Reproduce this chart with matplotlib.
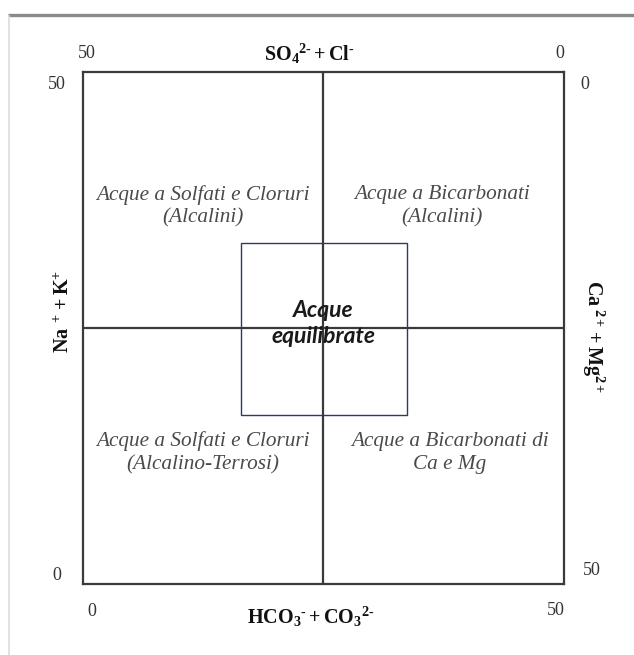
import matplotlib
matplotlib.use("Agg")
import matplotlib.pyplot as plt
from matplotlib.patches import Rectangle

plt.rcParams['mathtext.fontset'] = 'custom'
plt.rcParams['mathtext.rm'] = 'Liberation Serif'
plt.rcParams['mathtext.bf'] = 'Liberation Serif:bold'
plt.rcParams['mathtext.it'] = 'Liberation Serif:italic'

# ---- data ----
axis_min, axis_max = 0, 50
mid = 25
bottom_tick_labels = ["0", "50"]       # HCO3 + CO3, left -> right
top_tick_labels = ["50", "0"]          # SO4 + Cl, left -> right
left_tick_labels = ["0", "50"]         # Na + K, bottom -> top
right_tick_labels = ["50", "0"]        # Ca + Mg, bottom -> top
eq_box = [16.4, 33.7, 16.5, 33.3]      # x0, x1, y0, y1 of "Acque equilibrate"
quadrant_labels = ["Acque a Solfati e Cloruri\n(Alcalini)",
                   "Acque a Bicarbonati\n(Alcalini)",
                   "Acque a Solfati e Cloruri\n(Alcalino-Terrosi)",
                   "Acque a Bicarbonati di\nCa e Mg"]
quadrant_x = [12.5, 37.3, 12.5, 38.1]
quadrant_y = [36.9, 36.9, 12.8, 12.8]
center_label = "Acque\nequilibrate"

W, H = 634, 655
fig = plt.figure(figsize=(W / 100, H / 100), dpi=100)

# decoration frame of the screenshot
deco = fig.add_axes([0, 0, 1, 1])
deco.set_xlim(0, W)
deco.set_ylim(H, 0)
deco.axis('off')
deco.plot([8, W], [14.5, 14.5], color='#8a8a8a', lw=2.4, solid_capstyle='butt')
deco.plot([8.5, 8.5], [16, H], color='#dcdcdc', lw=1.2)

left, right, top, bottom = 83, 564, 72, 584
ax = fig.add_axes([left / W, (H - bottom) / H, (right - left) / W, (bottom - top) / H])
ax.set_xlim(axis_min, axis_max)
ax.set_ylim(axis_min, axis_max)
ax.set_xticks([])
ax.set_yticks([])
for s in ax.spines.values():
    s.set_linewidth(1.6)
    s.set_color('#3a3a3a')
ax.set_facecolor('none')

ax.axvline(mid, color='#3a3a3a', lw=1.6)
ax.axhline(mid, color='#3a3a3a', lw=1.6)

x0, x1, y0, y1 = eq_box
ax.add_patch(Rectangle((x0, y0), x1 - x0, y1 - y0, fill=False,
                       edgecolor='#2b3a6a', lw=1.0, zorder=3))

for lab, qx, qy in zip(quadrant_labels, quadrant_x, quadrant_y):
    ax.text(qx, qy, lab, ha='center', va='center', fontsize=15.3,
            family='Liberation Serif', style='italic', color='#4a4a4a',
            linespacing=1.25)

ax.text(mid, 25.4, center_label, ha='center', va='center', fontsize=16.5,
        family='Lato', style='italic', weight='bold', color='#1a1a1a',
        linespacing=1.3, zorder=4)

tick_kw = dict(fontsize=13, family='Liberation Serif', color='#333333',
               annotation_clip=False)
# bottom ticks
ax.annotate(bottom_tick_labels[0], (axis_min, axis_min), xytext=(6, -20),
            textcoords='offset points', ha='center', va='center', **tick_kw)
ax.annotate(bottom_tick_labels[1], (axis_max, axis_min), xytext=(-6, -19),
            textcoords='offset points', ha='center', va='center', **tick_kw)
# top ticks
ax.annotate(top_tick_labels[0], (axis_min, axis_max), xytext=(3, 13),
            textcoords='offset points', ha='center', va='center', **tick_kw)
ax.annotate(top_tick_labels[1], (axis_max, axis_max), xytext=(-3, 13),
            textcoords='offset points', ha='center', va='center', **tick_kw)
# left ticks
ax.annotate(left_tick_labels[0], (axis_min, axis_min), xytext=(-19, 6),
            textcoords='offset points', ha='center', va='center', **tick_kw)
ax.annotate(left_tick_labels[1], (axis_min, axis_max), xytext=(-19, -9),
            textcoords='offset points', ha='center', va='center', **tick_kw)
# right ticks
ax.annotate(right_tick_labels[0], (axis_max, axis_min), xytext=(20, 10),
            textcoords='offset points', ha='center', va='center', **tick_kw)
ax.annotate(right_tick_labels[1], (axis_max, axis_max), xytext=(15, -9),
            textcoords='offset points', ha='center', va='center', **tick_kw)

lab_kw = dict(fontsize=14.5, color='#111111', annotation_clip=False)
ax.annotate(r'$\mathbf{SO_4{}^{2\text{-}} + Cl^{\text{-}}}$', (mid, axis_max), xytext=(-10, 13),
            textcoords='offset points', ha='center', va='center', **lab_kw)
ax.annotate(r'$\mathbf{HCO_3{}^{\text{-}} + CO_3{}^{2\text{-}}}$', (mid, axis_min), xytext=(-9, -24),
            textcoords='offset points', ha='center', va='center', **lab_kw)
ax.annotate(r'$\mathbf{Na^{\ +} + K^{+}}$', (axis_min, mid), xytext=(-14, 12),
            textcoords='offset points', ha='center', va='center', rotation=90, **lab_kw)
ax.annotate(r'$\mathbf{Ca^{\ 2+} + Mg^{2+}}$', (axis_max, mid), xytext=(21, -6),
            textcoords='offset points', ha='center', va='center', rotation=-90, **lab_kw)

fig.savefig('out.png', dpi=100)
